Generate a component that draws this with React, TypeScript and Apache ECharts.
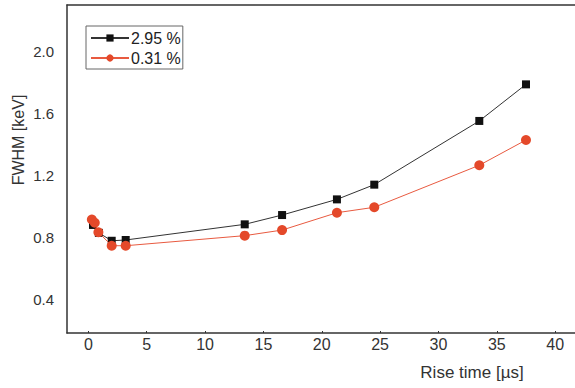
import React, { useEffect, useRef } from "react";
import * as echarts from "echarts";

const blackX = [0.4, 0.9, 2.0, 3.2, 13.4, 16.6, 21.3, 24.5, 33.5, 37.5];
const blackY = [0.881, 0.83, 0.779, 0.784, 0.885, 0.945, 1.046, 1.141, 1.552, 1.788];
const redX = [0.3, 0.55, 0.86, 2.0, 3.2, 13.4, 16.6, 21.3, 24.5, 33.5, 37.5];
const redY = [0.916, 0.895, 0.834, 0.747, 0.747, 0.812, 0.848, 0.96, 0.995, 1.266, 1.429];
const xTicks = [0, 5, 10, 15, 20, 25, 30, 35, 40];
const yTicks = [0.4, 0.8, 1.2, 1.6, 2.0];
const seriesNames = ["2.95 %", "0.31 %"];

const FONT = "'Liberation Sans', Arial, Helvetica, sans-serif";

export default function App() {
  const ref = useRef<HTMLDivElement>(null);
  useEffect(() => {
    if (!ref.current) return;
    const chart = echarts.init(ref.current, undefined, { renderer: "svg" });
    const black = blackX.map((x, i) => [x, blackY[i]]);
    const red = redX.map((x, i) => [x, redY[i]]);
    chart.setOption({
      animation: false,
      backgroundColor: "#ffffff",
      grid: { left: 67, top: 5, right: 0, bottom: 55, containLabel: false },
      legend: {
        left: 86,
        top: 26,
        orient: "vertical",
        data: seriesNames,
        itemWidth: 38,
        itemHeight: 9,
        itemGap: 4,
        padding: [4, 2, 3, 4],
        borderColor: "#666",
        borderWidth: 1,
        textStyle: { fontFamily: FONT, fontSize: 16, color: "#222", padding: [0, 0, 0, -3] },
      },
      xAxis: [
        {
          type: "value",
          min: -1.83,
          max: 41.7,
          position: "bottom",
          axisLine: { show: true, onZero: false, lineStyle: { color: "#333", width: 1.5 } },
          axisTick: { show: true, inside: true, length: 2, customValues: xTicks, lineStyle: { color: "#333" } },
          axisLabel: {
            customValues: xTicks,
            margin: 3,
            fontFamily: FONT,
            fontSize: 16,
            color: "#333",
          },
          splitLine: { show: false },
        },
        {
          type: "value",
          min: -1.83,
          max: 41.7,
          position: "top",
          axisLine: { show: true, onZero: false, lineStyle: { color: "#333", width: 1.5 } },
          axisTick: { show: false },
          axisLabel: { show: false },
          splitLine: { show: false },
        },
      ],
      yAxis: {
        type: "value",
        min: 0.184,
        max: 2.3,
        axisLine: { show: true, onZero: false, lineStyle: { color: "#333", width: 1.5 } },
        axisTick: { show: false, customValues: yTicks },
        axisLabel: {
          customValues: yTicks,
          margin: 13,
          fontFamily: FONT,
          fontSize: 15,
          color: "#333",
          formatter: (v: number) => v.toFixed(1),
        },
        splitLine: { show: false },
      },
      graphic: [
        {
          type: "text",
          x: 18,
          y: 140,
          rotation: Math.PI / 2,
          style: {
            text: "FWHM [keV]",
            fontFamily: FONT,
            fontSize: 16,
            fill: "#333",
            align: "center",
            verticalAlign: "middle",
          },
        },
        {
          type: "text",
          x: 472,
          y: 372,
          style: {
            text: "Rise time [µs]",
            fontFamily: FONT,
            fontSize: 17,
            fill: "#333",
            align: "center",
            verticalAlign: "middle",
          },
        },
      ],
      series: [
        {
          name: seriesNames[0],
          type: "line",
          xAxisIndex: 0,
          data: black,
          symbol: "rect",
          symbolSize: 8,
          itemStyle: { color: "#111" },
          lineStyle: { color: "#333", width: 1 },
          z: 2,
        },
        {
          name: seriesNames[1],
          type: "line",
          xAxisIndex: 0,
          data: red,
          symbol: "circle",
          symbolSize: 10,
          itemStyle: { color: "#e4492a" },
          lineStyle: { color: "#e85a40", width: 1 },
          z: 3,
        },
      ],
    });
    return () => chart.dispose();
  }, []);
  return (
    <div
      ref={ref}
      style={{ position: "fixed", left: 0, top: 0, width: 575, height: 388 }}
    />
  );
}
